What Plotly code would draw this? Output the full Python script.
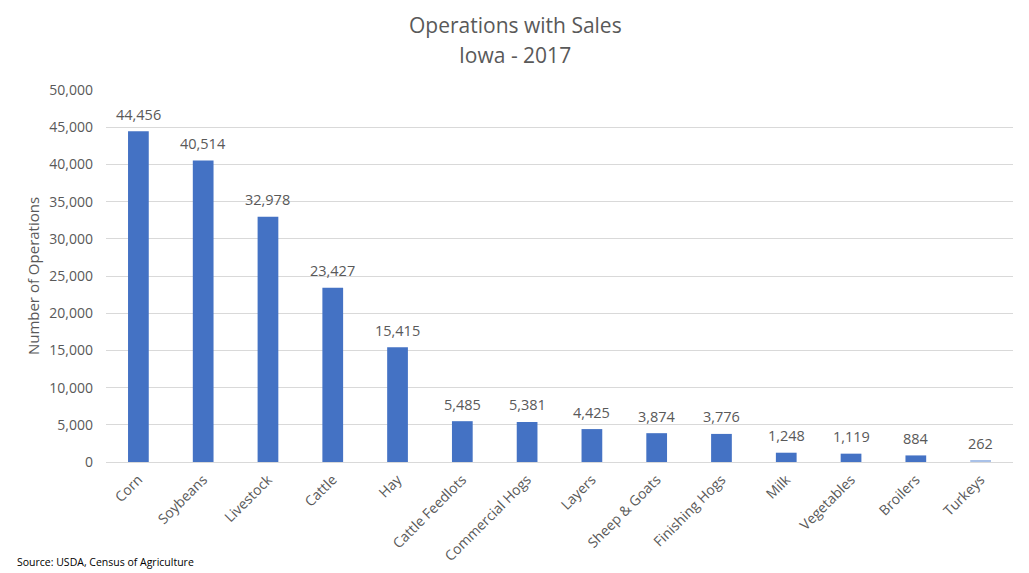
import plotly.graph_objects as go

categories = ["Corn", "Soybeans", "Livestock", "Cattle", "Hay", "Cattle Feedlots",
              "Commercial Hogs", "Layers", "Sheep & Goats", "Finishing Hogs",
              "Milk", "Vegetables", "Broilers", "Turkeys"]
values = [44456, 40514, 32978, 23427, 15415, 5485, 5381, 4425, 3874, 3776,
          1248, 1119, 884, 262]
colors = ["#4472C4"] * 13 + ["#A9C1E8"]
title_lines = ["Operations with Sales", "Iowa - 2017"]
source_note = "Source: USDA, Census of Agriculture"

font = "Open Sans"
grey = "#595959"

# page body has an 8px margin; figure sized/positioned to compensate
W, H = 1021, 565
L, T, R, B = 98, 82, 16, 111
plot_h = H - T - B
plot_w = W - L - R

def py(fig_y):
    return (H - B - fig_y) / plot_h

def px(fig_x):
    return (fig_x - L) / plot_w

fig = go.Figure(go.Bar(
    x=categories, y=values,
    marker=dict(color=colors, line=dict(width=0)),
    hoverinfo="x+y",
))

annotations = []
for c, v in zip(categories, values):
    annotations.append(dict(x=c, y=v, xref="x", yref="y", text=f"{v:,}",
                            showarrow=False, yanchor="middle", yshift=17,
                            font=dict(family=font, size=14.5, color=grey)))
annotations.append(dict(text=title_lines[0], xref="paper", yref="paper",
                        x=px(507), y=py(17), xanchor="center", yanchor="middle",
                        showarrow=False, font=dict(family=font, size=21, color=grey)))
annotations.append(dict(text=title_lines[1], xref="paper", yref="paper",
                        x=px(507), y=py(47), xanchor="center", yanchor="middle",
                        showarrow=False, font=dict(family=font, size=21, color=grey)))
annotations.append(dict(text=source_note, xref="paper", yref="paper",
                        x=px(7), y=py(554), xanchor="left", yanchor="middle",
                        showarrow=False, font=dict(family=font, size=10.5, color="black")))

fig.update_layout(
    width=W, height=H,
    paper_bgcolor="white", plot_bgcolor="white",
    margin=dict(l=L, r=R, t=T, b=B, autoexpand=False),
    bargap=0.68,
    showlegend=False,
    xaxis=dict(tickangle=-45, tickfont=dict(family=font, size=14, color=grey),
               showline=True, linecolor="#d9d9d9", linewidth=1, ticks="",
               ticklabelstandoff=3, automargin=False),
    yaxis=dict(range=[0, 50000], dtick=5000, tickformat=",",
               tickfont=dict(family=font, size=14, color=grey),
               gridcolor="#d9d9d9", gridwidth=1, zeroline=False,
               ticks="", ticklabelstandoff=12, automargin=False,
               title=dict(text="Number of Operations",
                          font=dict(family=font, size=15, color=grey), standoff=6)),
    annotations=annotations,
)

fig.write_html("out.html")
